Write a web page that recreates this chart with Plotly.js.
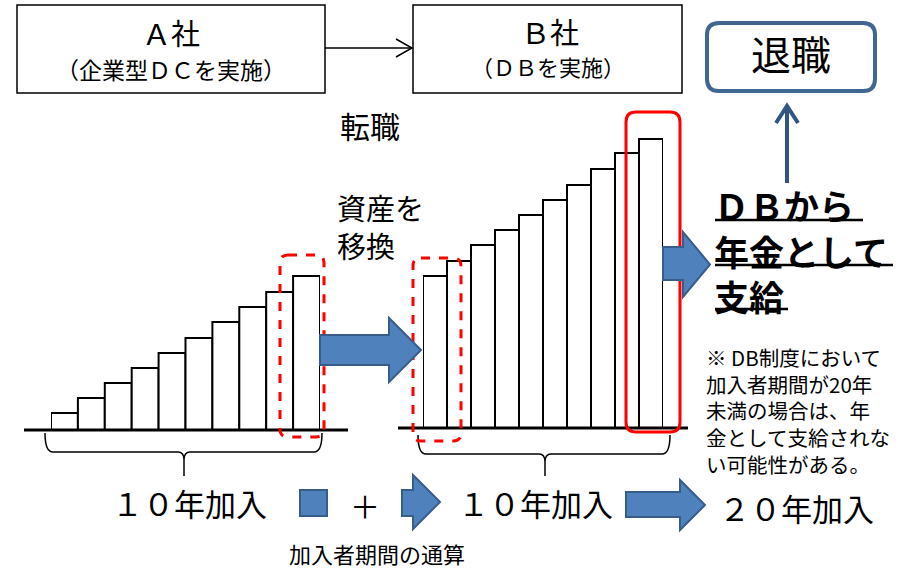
<!DOCTYPE html>
<html>
<head>
<meta charset="utf-8">
<script src="https://cdn.plot.ly/plotly-3.0.1.min.js"></script>
<style>html,body{margin:0;padding:0;background:#fff;}#chart{width:899px;height:570px;}</style>
</head>
<body>
<div id="chart"></div>
<script>
// ---- data ----
const yearsA = [1, 2, 3, 4, 5, 6, 7, 8, 9, 10];
const assetsA = [17, 32, 47, 62, 77, 92, 108, 123, 138, 154];   // A社 (企業型DC) 資産
const yearsB = [1, 2, 3, 4, 5, 6, 7, 8, 9, 10];
const assetsB = [152, 167, 183, 198, 213, 228, 243, 259, 275, 289]; // B社 (DB) 資産
const companyA = "Ａ社";
const companyA_sub = "（企業型ＤＣを実施）";
const companyB = "Ｂ社";
const companyB_sub = "（ＤＢを実施）";
const periodLabels = ["１０年加入", "１０年加入", "２０年加入"];
const headlineLines = ["ＤＢから", "年金として", "支給"];
const noteLines = ["※ DB制度において", "加入者期間が20年", "未満の場合は、年", "金として支給されな", "い可能性がある。"];

const FONT = "Noto Sans CJK JP, Noto Sans, sans-serif";
const BLUE = "#4F81BD", BLUE_EDGE = "#385D8A", DARK_BLUE = "#2F5587", RED = "#FF0000";

const traces = [
  {type: "bar", x: yearsA, y: assetsA, xaxis: "x2", yaxis: "y2", width: 1,
   marker: {color: "#fff", line: {color: "#000", width: 2}}, hoverinfo: "skip"},
  {type: "bar", x: yearsB, y: assetsB, xaxis: "x3", yaxis: "y3", width: 1,
   marker: {color: "#fff", line: {color: "#000", width: 2}}, hoverinfo: "skip"}
];

function rrect(x0, y0, x1, y1, r) {
  return `M${x0 + r},${y0} L${x1 - r},${y0} Q${x1},${y0} ${x1},${y0 + r} L${x1},${y1 - r} Q${x1},${y1} ${x1 - r},${y1} L${x0 + r},${y1} Q${x0},${y1} ${x0},${y1 - r} L${x0},${y0 + r} Q${x0},${y0} ${x0 + r},${y0} Z`;
}
function arrowPath(x0, by0, by1, hx, hy0, hy1, tx) {
  const ty = (hy0 + hy1) / 2;
  return `M${x0},${by0} L${hx},${by0} L${hx},${hy0} L${tx},${ty} L${hx},${hy1} L${hx},${by1} L${x0},${by1} Z`;
}
function brace(xl, xr, xm, ytop, ymid, ybot) {
  return `M${xl},${ytop} Q${xl},${ymid} ${xl + 8},${ymid} L${xm - 6},${ymid} Q${xm},${ymid} ${xm},${ymid + 8} L${xm},${ybot} M${xm},${ymid + 8} Q${xm},${ymid} ${xm + 6},${ymid} L${xr - 8},${ymid} Q${xr},${ymid} ${xr},${ytop}`;
}

const shapes = [
  // company boxes
  {type: "rect", x0: 17, x1: 325, y0: 5, y1: 93, line: {color: "#000", width: 1.5}},
  {type: "rect", x0: 413, x1: 682, y0: 5, y1: 93, line: {color: "#000", width: 1.5}},
  {type: "line", x0: 325, x1: 412, y0: 48, y1: 48, line: {color: "#000", width: 1.5}},
  {type: "path", path: "M396,39 L412,48 L396,57", line: {color: "#000", width: 1.5}},
  // 退職 box
  {type: "path", path: rrect(707, 23, 875, 91, 12), line: {color: "#41668F", width: 4}},
  // up arrow
  {type: "line", x0: 787, x1: 787, y0: 183, y1: 107, line: {color: DARK_BLUE, width: 4}},
  {type: "path", path: "M776,123 L787,106 L798,123", line: {color: DARK_BLUE, width: 4}},
  // baselines
  {type: "line", x0: 24, x1: 348, y0: 430, y1: 430, line: {color: "#000", width: 3}},
  {type: "line", x0: 398, x1: 688, y0: 428, y1: 428, line: {color: "#000", width: 3}},
  // braces
  {type: "path", path: brace(45, 322, 184, 433, 452, 476), line: {color: "#000", width: 1.5}},
  {type: "path", path: brace(418, 670, 545, 435, 454, 476), line: {color: "#000", width: 1.5}},
  // red dashed boxes & solid box
  {type: "path", path: rrect(280, 255, 324, 437, 8), line: {color: RED, width: 3, dash: "dash"}},
  {type: "path", path: rrect(413, 258, 461, 441, 8), line: {color: RED, width: 3, dash: "dash"}},
  {type: "path", path: rrect(626, 112, 680, 432, 10), line: {color: RED, width: 3}},
  // blue arrows
  {type: "path", path: arrowPath(320, 335, 365, 389, 318, 382, 421), fillcolor: BLUE, line: {color: BLUE_EDGE, width: 2}},
  {type: "path", path: arrowPath(663, 247, 280, 683, 232, 297, 710), fillcolor: BLUE, line: {color: BLUE_EDGE, width: 2}},
  {type: "rect", x0: 300, x1: 327, y0: 490, y1: 516, fillcolor: BLUE, line: {color: BLUE_EDGE, width: 2}},
  {type: "path", path: arrowPath(402, 490, 516, 413, 475, 529, 440), fillcolor: BLUE, line: {color: BLUE_EDGE, width: 2}},
  {type: "path", path: arrowPath(626, 492, 517, 680, 480, 530, 705), fillcolor: BLUE, line: {color: BLUE_EDGE, width: 2}},
  // headline underlines
  {type: "line", x0: 715, x1: 863, y0: 220, y1: 220, line: {color: "#000", width: 2.5}},
  {type: "line", x0: 715, x1: 893, y0: 265, y1: 265, line: {color: "#000", width: 2.5}},
  {type: "line", x0: 715, x1: 788, y0: 309, y1: 309, line: {color: "#000", width: 2.5}}
];

function txt(text, x, y, size, xanchor, extra) {
  return Object.assign({text: text, x: x, y: y, xref: "x", yref: "y", showarrow: false,
    xanchor: xanchor || "center", yanchor: "middle", align: xanchor || "center",
    font: {family: FONT, size: size, color: "#000"}}, extra || {});
}

const annotations = [
  txt(companyA, 171, 32, 29),
  txt(companyA_sub, 171, 69, 23),
  txt(companyB, 550, 31, 29),
  txt(companyB_sub, 548, 66, 22),
  txt("退職", 791, 53, 40),
  txt("転職", 370, 125, 30),
  txt("資産を<br>移換", 335, 226, 29, "left"),
  txt("<b>" + headlineLines.join("<br>") + "</b>", 712, 250, 35, "left"),
  txt(periodLabels[0], 189, 502, 31),
  txt("＋", 365, 505, 30),
  txt(periodLabels[1], 535, 502, 31),
  txt(periodLabels[2], 796, 507, 31),
  txt("加入者期間の通算", 377, 553, 22),
  txt(noteLines.join("<br>"), 704, 410, 20.5, "left")
];

const H = 570, W = 899;
const layout = {
  width: W, height: H,
  margin: {l: 0, r: 0, t: 0, b: 0, pad: 0},
  paper_bgcolor: "#fff", plot_bgcolor: "rgba(0,0,0,0)",
  showlegend: false, bargap: 0,
  xaxis: {range: [0, W], visible: false, fixedrange: true},
  yaxis: {range: [H, 0], visible: false, fixedrange: true},
  xaxis2: {domain: [51 / W, 320 / W], range: [0.5, 10.5], visible: false, anchor: "y2"},
  yaxis2: {domain: [(H - 430) / H, (H - 270) / H], range: [0, 160], visible: false, anchor: "x2"},
  xaxis3: {domain: [423 / W, 663 / W], range: [0.5, 10.5], visible: false, anchor: "y3"},
  yaxis3: {domain: [(H - 428) / H, (H - 128) / H], range: [0, 300], visible: false, anchor: "x3"},
  shapes: shapes,
  annotations: annotations
};

Plotly.newPlot("chart", traces, layout, {staticPlot: true, displayModeBar: false});
</script>
</body>
</html>
